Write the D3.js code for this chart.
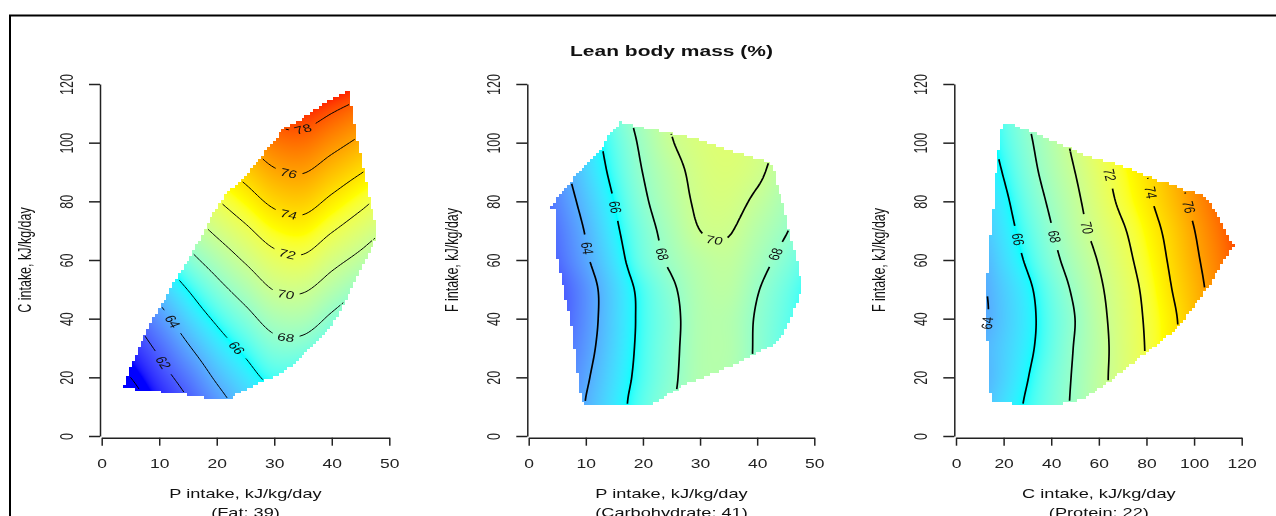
<!DOCTYPE html>
<html>
<head>
<meta charset="utf-8">
<script src="https://cdn.jsdelivr.net/npm/d3@7"></script>
<style>
html, body { margin: 0; padding: 0; background: #fff; }
#wrap { position: relative; width: 1276px; height: 516px; overflow: hidden; background: #fff; }
#wrap canvas, #wrap svg { position: absolute; left: 0; top: 0; }
</style>
</head>
<body>
<div id="wrap">
  <canvas id="heat" width="1276" height="516"></canvas>
  <svg id="chart" width="1276" height="516"></svg>
</div>
<script>
// ---- Chart text ----
const chartTitle = "Lean body mass (%)";
const yTicks = [0, 20, 40, 60, 80, 100, 120];
const contourLevels = [60, 62, 64, 66, 68, 70, 72, 74, 76, 78];

// Colour ramp for lean body mass (%), blended in Lab space
const colorStops = [60.5, 66, 73, 79];
const colorRamp = ["#0000ff", "#00ffff", "#ffff00", "#ff0000"];

// ---- Panel 1: protein vs carbohydrate intake, fat fixed ----
const p1XTitle = "P intake, kJ/kg/day";
const p1Note = "(Fat: 39)";
const p1YTitle = "C intake, kJ/kg/day";
const p1XTicks = [0, 10, 20, 30, 40, 50];
const p1GridX = [0, 5, 10, 15, 20, 25, 30, 35, 40, 45, 50];
const p1GridY = [0, 10, 20, 30, 40, 50, 60, 70, 80, 90, 100, 110, 120];
const p1Values = [
  [57.5, 58.2, 59.5, 60.6, 62.2, 63.6, 64.25, 63.8, 62.5, 61.0, 59.5],
  [58.3, 59.1, 60.45, 61.7, 63.2, 64.52, 65.3, 64.9, 63.8, 62.4, 61.0],
  [59.2, 60.0, 61.35, 62.7, 64.22, 65.39, 66.37, 66.1, 65.2, 63.8, 62.5],
  [60.0, 60.95, 62.3, 63.83, 65.22, 66.34, 67.44, 67.4, 66.4, 65.2, 64.0],
  [60.8, 61.86, 63.4, 64.93, 66.26, 67.45, 68.66, 68.78, 67.7, 66.56, 65.5],
  [61.5, 62.95, 64.57, 66.04, 67.45, 68.75, 70.06, 70.18, 69.1, 67.97, 66.9],
  [62.5, 64.1, 65.8, 67.42, 68.82, 70.19, 71.44, 71.71, 70.56, 69.5, 68.3],
  [63.6, 65.5, 67.37, 68.92, 70.35, 71.65, 72.9, 73.2, 72.1, 71.0, 69.94],
  [65.2, 67.3, 69.03, 70.51, 71.88, 73.15, 74.37, 74.66, 73.63, 72.5, 71.4],
  [67.2, 69.1, 70.7, 72.11, 73.43, 74.6, 75.79, 76.07, 75.12, 74.1, 73.1],
  [69.3, 70.9, 72.4, 73.7, 74.82, 76.0, 77.17, 77.4, 76.57, 75.63, 74.6],
  [71.1, 72.6, 74.0, 75.06, 76.2, 77.38, 78.55, 78.7, 78.0, 77.15, 76.2],
  [73.0, 74.3, 75.3, 76.3, 77.7, 78.7, 79.9, 80.0, 79.4, 78.7, 77.8]
];
const p1Hull = [
  [3.8, 16.4], [5.5, 25.8], [8.4, 38.3], [11, 46.9], [13, 53.7], [15.9, 62.8],
  [19.4, 75.9], [21.7, 82.7], [24.6, 87.8], [27.5, 94.7], [30.4, 101.5], [31.6, 104.9],
  [34.8, 108.3], [39.1, 114], [42.9, 117.4], [43.4, 117.6], [43.5, 113], [44.3, 102],
  [45.5, 91.8], [46.3, 82.7], [47.5, 73.6], [47.7, 66.8], [46, 60], [43.7, 50.9],
  [40.3, 38.3], [36.8, 31.5], [33.3, 24.1], [30.4, 20.7], [26.4, 17.3], [23.5, 14.4],
  [22.9, 13], [17.7, 13], [14.5, 14.1], [9.6, 15.2]
];
const p1Labels = [
  [62, 11, 25.3], [64, 12.5, 39.5], [66, 23.5, 30.4], [68, 32.2, 35.8], [70, 32.2, 49.9],
  [72, 32.4, 63.6], [74, 32.7, 77.2], [76, 32.6, 91.2], [78, 35, 104.9]
];

// ---- Panel 2: protein vs fat intake, carbohydrate fixed ----
const p2XTitle = "P intake, kJ/kg/day";
const p2Note = "(Carbohydrate: 41)";
const p2YTitle = "F intake, kJ/kg/day";
const p2XTicks = [0, 10, 20, 30, 40, 50];
const p2GridX = [0, 5, 10, 15, 20, 25, 30, 35, 40, 45, 50];
const p2GridY = [0, 10, 20, 30, 40, 50, 60, 70, 80, 90, 100, 110, 120];
const p2Values = [
  [61.3, 62.6, 63.9, 65.2, 66.5, 67.8, 68.7, 68.7, 67.8, 66.8, 65.8],
  [61.4, 62.7, 64.05, 65.4, 66.7, 67.88, 68.8, 68.8, 67.8, 66.8, 65.8],
  [61.0, 62.4, 63.8, 65.2, 66.5, 67.7, 68.9, 68.9, 67.8, 66.8, 65.8],
  [60.5, 62.05, 63.5, 65.0, 66.4, 67.6, 68.9, 69.0, 67.8, 66.7, 65.7],
  [60.1, 61.7, 63.3, 64.9, 66.35, 67.53, 68.9, 69.0, 67.85, 66.8, 65.8],
  [60.1, 61.7, 63.3, 64.93, 66.44, 67.74, 69.0, 69.3, 68.1, 67.0, 66.0],
  [60.8, 62.3, 63.8, 65.33, 67.03, 68.3, 69.3, 69.6, 68.6, 67.5, 66.5],
  [61.0, 62.6, 64.1, 65.7, 67.3, 68.7, 70.0, 70.1, 69.1, 68.1, 67.0],
  [61.5, 63.0, 64.5, 66.03, 67.7, 69.1, 70.3, 70.5, 69.7, 68.6, 67.5],
  [62.0, 63.4, 64.9, 66.4, 68.03, 69.4, 70.5, 70.8, 70.3, 69.1, 68.1],
  [62.2, 63.7, 65.2, 66.7, 68.34, 69.9, 70.7, 71.0, 70.5, 69.7, 68.7],
  [62.4, 64.0, 65.5, 67.1, 68.7, 70.2, 70.8, 71.0, 70.6, 69.9, 69.0],
  [62.5, 64.1, 65.6, 67.2, 68.8, 70.3, 70.9, 71.0, 70.6, 70.0, 69.1]
];
const p2Hull = [
  [16.3, 107.7], [14.5, 103.8], [12.8, 98.1], [11, 94.1], [7.8, 87.8], [6.7, 84.4],
  [4.9, 81], [3.7, 77.6], [4.6, 77], [4.9, 61.1], [6.1, 50.9], [7.5, 37.2], [8.4, 23.5],
  [9, 14.4], [9.6, 10.5], [21.2, 10.5], [23, 12.2], [27.7, 17.9], [32.3, 21.3],
  [35.8, 24.1], [39.3, 27.5], [42.8, 30.9], [44.3, 33.8], [45.7, 39.5], [47.2, 46.3],
  [47.8, 50.9], [47.5, 54.3], [46.9, 61.1], [45.4, 70.8], [44.8, 78.2], [43.7, 83.8],
  [42.8, 92.4], [41.9, 93.5], [37, 96.4], [32.3, 99.2], [28.8, 101.5], [24.7, 103.2],
  [20.7, 104.9], [16.6, 106.6]
];
const p2Labels = [
  [64, 9.9, 63.9], [66, 15.1, 78.2], [68, 23.3, 62.2], [70, 32.9, 69.6], [68, 43.3, 61.7]
];

// ---- Panel 3: carbohydrate vs fat intake, protein fixed ----
const p3XTitle = "C intake, kJ/kg/day";
const p3Note = "(Protein: 22)";
const p3YTitle = "F intake, kJ/kg/day";
const p3XTicks = [0, 20, 40, 60, 80, 100, 120];
const p3GridX = [0, 10, 20, 30, 40, 50, 60, 70, 80, 90, 100, 110, 120];
const p3GridY = [0, 10, 20, 30, 40, 50, 60, 70, 80, 90, 100, 110, 120];
const p3Values = [
  [63.15, 64.2, 65.2, 66.2, 67.2, 68.27, 69.5, 70.77, 72.07, 73.4, 74.7, 76.0, 77.3],
  [63.15, 64.2, 65.2, 66.2, 67.2, 68.27, 69.5, 70.77, 72.07, 73.4, 74.7, 76.0, 77.3],
  [62.9, 63.9, 64.9, 65.95, 67.06, 68.2, 69.5, 70.77, 72.07, 73.4, 75.0, 76.7, 78.0],
  [63.1, 64.0, 64.8, 65.7, 66.82, 68.1, 69.4, 70.8, 72.1, 73.5, 75.0, 76.6, 78.0],
  [63.2, 63.7, 64.65, 65.6, 66.75, 68.0, 69.5, 70.87, 72.2, 73.56, 75.1, 76.7, 78.2],
  [63.2, 63.75, 64.75, 65.73, 66.97, 68.3, 69.72, 71.05, 72.4, 73.9, 75.34, 76.8, 78.2],
  [63.5, 64.0, 65.1, 66.2, 67.5, 68.8, 70.1, 71.4, 72.76, 74.2, 75.66, 77.0, 78.3],
  [63.7, 64.4, 65.4, 66.6, 67.9, 69.3, 70.6, 71.8, 73.15, 74.5, 75.96, 77.3, 78.6],
  [63.8, 64.7, 65.7, 67.0, 68.3, 69.63, 71.05, 72.4, 73.66, 75.0, 76.4, 77.7, 79.0],
  [64.0, 65.0, 66.08, 67.4, 68.7, 70.0, 71.43, 72.75, 74.0, 75.4, 76.8, 78.1, 79.4],
  [64.2, 65.2, 66.44, 67.7, 69.0, 70.4, 71.92, 73.2, 74.5, 75.9, 77.2, 78.5, 79.8],
  [64.3, 65.5, 66.7, 68.0, 69.3, 70.77, 72.25, 73.5, 74.8, 76.1, 77.4, 78.7, 80.0],
  [64.4, 65.7, 66.9, 68.2, 69.5, 71.0, 72.5, 73.8, 75.0, 76.3, 77.6, 78.9, 80.2]
];
const p3Hull = [
  [19.5, 106.4], [23.4, 106.4], [27.6, 104.9], [31.8, 103.8], [39.5, 100.9], [47.9, 98.1],
  [56.3, 95.2], [63.9, 93.5], [71.7, 91.8], [78.7, 89], [85.7, 86.7], [91.3, 85.5],
  [96.2, 83.8], [102.5, 82.7], [106.7, 79.9], [110.9, 73.6], [114.4, 67.3], [116.5, 65.1],
  [115.1, 63.4], [113, 60.5], [110.2, 56.5], [107.4, 52.6], [103.9, 48.6], [99.7, 44],
  [94.8, 38.3], [89.9, 34.9], [85, 31.5], [78.7, 27.5], [73.1, 24.1], [66.1, 19.6],
  [59.8, 16.2], [53.5, 12.7], [49.3, 11.6], [40.9, 10.5], [29, 10.5], [15.7, 11.6],
  [14.3, 15], [13.6, 25.8], [12.9, 37.2], [12.2, 48.6], [13.6, 57.7], [14.3, 67.9],
  [15.7, 78.2], [16.4, 86.7], [17.8, 96.4], [18.5, 99.8]
];
const p3Labels = [
  [64, 12.9, 38.3], [66, 26.2, 67.3], [68, 41.2, 67.9], [70, 55.2, 71.3],
  [72, 65.4, 89], [74, 82.2, 82.7], [76, 97.6, 78.2]
];

// ---- Layout ----
const FONT = "'Liberation Sans', Arial, Helvetica, sans-serif";
const SX = 1.4;               // horizontal stretch of text glyphs
const yRange = [436, 84];
const xAxisY = 437.7;

const panels = [
  { gx: p1GridX, gy: p1GridY, z: p1Values, hull: p1Hull, labels: p1Labels, xTicks: p1XTicks,
    xDomain: [0, 50], xRange: [101.7, 389.3], axisX: 100, xTitle: p1XTitle, note: p1Note,
    yTitle: p1YTitle, step: [0.5, 1], lw: 1.0 },
  { gx: p2GridX, gy: p2GridY, z: p2Values, hull: p2Hull, labels: p2Labels, xTicks: p2XTicks,
    xDomain: [0, 50], xRange: [528.7, 814.3], axisX: 527.3, xTitle: p2XTitle, note: p2Note,
    yTitle: p2YTitle, step: [0.5, 1], lw: 1.7 },
  { gx: p3GridX, gy: p3GridY, z: p3Values, hull: p3Hull, labels: p3Labels, xTicks: p3XTicks,
    xDomain: [0, 120], xRange: [956, 1241.7], axisX: 954.3, xTitle: p3XTitle, note: p3Note,
    yTitle: p3YTitle, step: [1.2, 1], lw: 1.7 }
];

// Smooth (Catmull-Rom) surface through the grid values
function surface(gx, gy, z) {
  const nx = gx.length, ny = gy.length;
  const cr = (p0, p1, p2, p3, t) =>
    0.5 * (2 * p1 + (-p0 + p2) * t + (2 * p0 - 5 * p1 + 4 * p2 - p3) * t * t +
      (-p0 + 3 * p1 - 3 * p2 + p3) * t * t * t);
  const cl = (v, n) => Math.max(0, Math.min(n - 1, v));
  return (x, y) => {
    let i = Math.max(0, Math.min(nx - 2, d3.bisectRight(gx, x) - 1));
    let j = Math.max(0, Math.min(ny - 2, d3.bisectRight(gy, y) - 1));
    const t = (x - gx[i]) / (gx[i + 1] - gx[i]);
    const u = (y - gy[j]) / (gy[j + 1] - gy[j]);
    const rows = [-1, 0, 1, 2].map(dj => {
      const r = z[cl(j + dj, ny)];
      return cr(r[cl(i - 1, nx)], r[i], r[i + 1], r[cl(i + 2, nx)], t);
    });
    return cr(rows[0], rows[1], rows[2], rows[3], u);
  };
}

// Marching squares on a grid with undefined nodes, returning chained polylines
function isolines(xs, ys, val, def, L) {
  const adj = new Map(), pos = new Map();
  const link = (a, b) => {
    if (!adj.has(a)) adj.set(a, []);
    if (!adj.has(b)) adj.set(b, []);
    adj.get(a).push(b); adj.get(b).push(a);
  };
  const hPt = (i, j) => {
    const k = "h" + i + "," + j;
    if (!pos.has(k)) {
      const a = val[j][i], b = val[j][i + 1], t = (L - a) / (b - a);
      pos.set(k, [xs[i] + t * (xs[i + 1] - xs[i]), ys[j]]);
    }
    return k;
  };
  const vPt = (i, j) => {
    const k = "v" + i + "," + j;
    if (!pos.has(k)) {
      const a = val[j][i], b = val[j + 1][i], t = (L - a) / (b - a);
      pos.set(k, [xs[i], ys[j] + t * (ys[j + 1] - ys[j])]);
    }
    return k;
  };
  for (let j = 0; j < ys.length - 1; j++) {
    for (let i = 0; i < xs.length - 1; i++) {
      if (!(def[j][i] && def[j][i + 1] && def[j + 1][i] && def[j + 1][i + 1])) continue;
      const v0 = val[j][i], v1 = val[j][i + 1], v2 = val[j + 1][i + 1], v3 = val[j + 1][i];
      const b0 = v0 >= L, b1 = v1 >= L, b2 = v2 >= L, b3 = v3 >= L;
      const code = (b0 ? 1 : 0) | (b1 ? 2 : 0) | (b2 ? 4 : 0) | (b3 ? 8 : 0);
      if (code === 0 || code === 15) continue;
      const e = [];
      const E0 = () => hPt(i, j), E1 = () => vPt(i + 1, j), E2 = () => hPt(i, j + 1), E3 = () => vPt(i, j);
      if (code === 5 || code === 10) {
        const c = (v0 + v1 + v2 + v3) / 4 >= L;
        if ((code === 5) === c) { link(E0(), E1()); link(E2(), E3()); }
        else { link(E3(), E0()); link(E1(), E2()); }
        continue;
      }
      if (b0 !== b1) e.push(E0());
      if (b1 !== b2) e.push(E1());
      if (b3 !== b2) e.push(E2());
      if (b0 !== b3) e.push(E3());
      if (e.length === 2) link(e[0], e[1]);
    }
  }
  const seen = new Set(), chains = [];
  const walk = start => {
    const chain = [start]; seen.add(start);
    let cur = start;
    for (;;) {
      const nxt = adj.get(cur).find(k => !seen.has(k));
      if (nxt === undefined) break;
      chain.push(nxt); seen.add(nxt); cur = nxt;
    }
    return chain.map(k => pos.get(k));
  };
  for (const [k, n] of adj) if (n.length === 1 && !seen.has(k)) chains.push(walk(k));
  for (const k of adj.keys()) if (!seen.has(k)) chains.push(walk(k));
  return chains;
}

// Point at arc length s on a pixel polyline with cumulative lengths cum
function pointAt(pts, cum, s) {
  let k = d3.bisectRight(cum, s) - 1;
  k = Math.max(0, Math.min(pts.length - 2, k));
  const seg = cum[k + 1] - cum[k] || 1, t = (s - cum[k]) / seg;
  return [pts[k][0] + t * (pts[k + 1][0] - pts[k][0]), pts[k][1] + t * (pts[k + 1][1] - pts[k][1])];
}

const svg = d3.select("#chart");
const ctx = document.getElementById("heat").getContext("2d");
const img = ctx.createImageData(1276, 516);

const colorScale = d3.scaleLinear().domain(colorStops).range(colorRamp)
  .interpolate(d3.interpolateLab).clamp(true);
const lutMin = 55, lutMax = 85, lutN = 3000;
const lut = d3.range(lutN + 1).map(k => d3.rgb(colorScale(lutMin + (lutMax - lutMin) * k / lutN)));

// Outer frame
svg.append("path")
  .attr("d", "M10,530V15.5H1290")
  .attr("fill", "none").attr("stroke", "#000").attr("stroke-width", 2);

// Title
svg.append("text")
  .attr("transform", `translate(671.5,56) scale(${SX},1)`)
  .attr("text-anchor", "middle")
  .attr("font-family", FONT).attr("font-weight", "bold").attr("font-size", 15)
  .attr("fill", "#111")
  .text(chartTitle);

const line = d3.line();

panels.forEach(p => {
  const xS = d3.scaleLinear().domain(p.xDomain).range(p.xRange);
  const yS = d3.scaleLinear().domain([0, 120]).range(yRange);
  const f = surface(p.gx, p.gy, p.z);
  const [dx, dy] = p.step;
  const xs = d3.range(Math.round(p.xDomain[1] / dx) + 1).map(k => k * dx);
  const ys = d3.range(Math.round(120 / dy) + 1).map(k => k * dy);
  const def = ys.map(y => xs.map(x => d3.polygonContains(p.hull, [x, y])));
  const val = ys.map(y => xs.map(x => f(x, y)));

  // Heat map: cells on the grid, shaded smoothly inside each cell
  const pxA = Math.floor(xS(-dx / 2)), pxB = Math.ceil(xS(p.xDomain[1] + dx / 2));
  const pyA = Math.floor(yS(120 + dy / 2)), pyB = Math.ceil(yS(-dy / 2));
  for (let py = pyA; py < pyB; py++) {
    for (let px = pxA; px < pxB; px++) {
      const x = xS.invert(px + 0.5), y = yS.invert(py + 0.5);
      const i = Math.round(x / dx), j = Math.round(y / dy);
      if (i < 0 || j < 0 || i >= xs.length || j >= ys.length || !def[j][i]) continue;
      const v = f(x, y);
      const c = lut[Math.max(0, Math.min(lutN, Math.round((v - lutMin) / (lutMax - lutMin) * lutN)))];
      const o = (py * 1276 + px) * 4;
      img.data[o] = c.r; img.data[o + 1] = c.g; img.data[o + 2] = c.b; img.data[o + 3] = 255;
    }
  }

  // Contour lines with inline labels
  const g = svg.append("g");
  contourLevels.forEach(L => {
    const chains = isolines(xs, ys, val, def, L)
      .map(c => c.map(([x, y]) => [xS(x), yS(y)]))
      .filter(c => c.length > 1);
    const cums = chains.map(c => {
      const cum = [0];
      for (let k = 1; k < c.length; k++) cum.push(cum[k - 1] + Math.hypot(c[k][0] - c[k - 1][0], c[k][1] - c[k - 1][1]));
      return cum;
    });
    const cuts = chains.map(() => []);
    const halfGap = 14;
    p.labels.filter(l => l[0] === L).forEach(([lv, lx, ly]) => {
      const tx = xS(lx), ty = yS(ly);
      let best = null;
      chains.forEach((c, ci) => c.forEach((q, qi) => {
        const d = Math.hypot(q[0] - tx, q[1] - ty);
        if (!best || d < best.d) best = { d, ci, qi };
      }));
      if (!best || best.d > 25) return;
      const c = chains[best.ci], cum = cums[best.ci];
      const total = cum[cum.length - 1];
      const s0 = Math.max(0, Math.min(total, cum[best.qi]));
      const a = pointAt(c, cum, s0 - halfGap), b = pointAt(c, cum, s0 + halfGap);
      const m = pointAt(c, cum, s0);
      cuts[best.ci].push([s0 - halfGap, s0 + halfGap]);
      let ang = Math.atan2(b[1] - a[1], (b[0] - a[0]) / SX) * 180 / Math.PI;
      if (ang > 90) ang -= 180;
      if (ang <= -90) ang += 180;
      g.append("text")
        .attr("transform", `translate(${m[0]},${m[1]}) scale(${SX},1) rotate(${ang})`)
        .attr("text-anchor", "middle").attr("dominant-baseline", "central")
        .attr("font-family", FONT).attr("font-size", 11).attr("fill", "#111")
        .text(lv);
    });
    chains.forEach((c, ci) => {
      const cum = cums[ci], total = cum[cum.length - 1];
      const iv = cuts[ci].sort((u, v) => u[0] - v[0]);
      const keep = [];
      let s = 0;
      iv.forEach(([u, v]) => { if (u > s) keep.push([s, u]); s = Math.max(s, v); });
      if (s < total) keep.push([s, total]);
      keep.forEach(([u, v]) => {
        if (v - u < 0.5) return;
        const pts = [pointAt(c, cum, u)];
        for (let k = 0; k < c.length; k++) if (cum[k] > u && cum[k] < v) pts.push(c[k]);
        pts.push(pointAt(c, cum, v));
        g.append("path").attr("d", line(pts))
          .attr("fill", "none").attr("stroke", "#000").attr("stroke-width", p.lw)
          .attr("stroke-linejoin", "round");
      });
    });
  });

  // Axes
  const ax = svg.append("g").attr("transform", `translate(0,${xAxisY})`)
    .call(d3.axisBottom(xS).tickValues(p.xTicks).tickSize(8).tickSizeOuter(0));
  ax.attr("font-family", FONT).attr("font-size", 12.5).attr("color", "#222");
  ax.selectAll("path, line").attr("stroke-width", 1.5);
  ax.selectAll(".tick text").attr("y", null).attr("dy", null)
    .attr("transform", `translate(0,30.3) scale(${SX},1)`);

  const ay = svg.append("g").attr("transform", `translate(${p.axisX},0)`)
    .call(d3.axisLeft(yS).tickValues(yTicks).tickSize(11).tickSizeOuter(0));
  ay.attr("font-family", FONT).attr("font-size", 12.5).attr("color", "#222");
  ay.selectAll("path, line").attr("stroke-width", 1.5);
  ay.selectAll(".tick text").attr("x", null).attr("dy", null).attr("text-anchor", "middle")
    .attr("transform", `translate(-27,0) scale(${SX},1) rotate(-90)`);

  // Axis titles
  const cx = (p.xRange[0] + p.xRange[1]) / 2;
  [[p.xTitle, 497.5], [p.note, 516.5]].forEach(([t, y]) => {
    svg.append("text")
      .attr("transform", `translate(${cx},${y}) scale(${SX},1)`)
      .attr("text-anchor", "middle").attr("font-family", FONT).attr("font-size", 13)
      .attr("fill", "#111").text(t);
  });
  svg.append("text")
    .attr("transform", `translate(${p.axisX - 69},${(yRange[0] + yRange[1]) / 2}) scale(${SX},1) rotate(-90)`)
    .attr("text-anchor", "middle").attr("font-family", FONT).attr("font-size", 12.5)
    .attr("fill", "#111").text(p.yTitle);
});

ctx.putImageData(img, 0, 0);
</script>
</body>
</html>
